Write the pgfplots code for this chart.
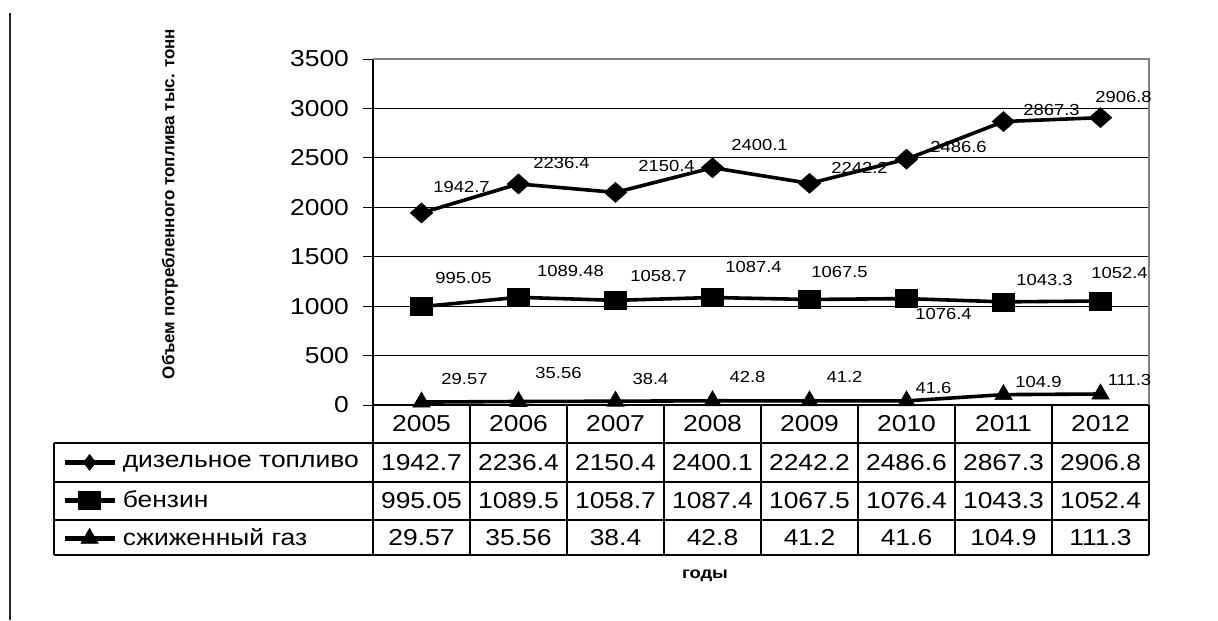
\documentclass[border=0pt]{standalone}
\usepackage{fontspec}
\setmainfont{Liberation Sans}[FakeStretch=1.15]
\newfontfamily\uprightfont{Liberation Sans}
\usepackage{pgfplots}
\usepackage{pgfplotstable}
\pgfplotsset{compat=1.18}

% x = year index (2005 = 0), y = value, dx/dy = label offset in pt
\pgfplotstableread{
x y      dx   dy    lab
0 1942.7 20   13    1942.7
1 2236.4 21.5 10.5  2236.4
2 2150.4 25.5 13    2150.4
3 2400.1 23.5 11.5  2400.1
4 2242.2 25   7.5   2242.2
5 2486.6 26   6     2486.6
6 2867.3 24   6     2867.3
7 2906.8 11.5 10.5  2906.8
}\diesel

\pgfplotstableread{
x y       dx   dy    lab
0 995.05  21   14.5  995.05
1 1089.48 26   13    1089.48
2 1058.7  21.5 12    1058.7
3 1087.4  20.5 15.5  1087.4
4 1067.5  15   13.5  1067.5
5 1076.4  18.5 -7.5  1076.4
6 1043.3  20.5 11    1043.3
7 1052.4  9.5  14    1052.4
}\petrol

\pgfplotstableread{
x y     dx   dy    lab
0 29.57 21.5 11.5  29.57
1 35.56 20   14    35.56
2 38.4  17.5 11    38.4
3 42.8  17.5 12    42.8
4 41.2  17.5 12    41.2
5 41.6  13.5 6.5   41.6
6 104.9 17.5 6.5   104.9
7 111.3 14.5 7     111.3
}\lpg

\begin{document}
\begin{tikzpicture}
\begin{scope}[x=0.5pt,y=-0.5pt]
  \path[use as bounding box] (0,0) rectangle (1218,620);
  \draw[line width=1pt, black!85] (10,13) -- (10,620);
  \node[rotate=90, font=\uprightfont\bfseries\fontsize{8.5}{10}\selectfont]
    at (170,204) {Объем потребленного топлива тыс. тонн};
\end{scope}

\begin{axis}[
  at={(186.5pt,-202.5pt)}, anchor=south west,
  scale only axis, width=388pt, height=173pt,
  xmin=-0.5, xmax=7.5, ymin=0, ymax=3500,
  axis lines*=left,
  axis line style={line width=1pt, black},
  xtick=\empty, ytick={0,500,...,3500},
  tick align=outside, major tick length=5pt,
  tick style={black, line width=0.5pt},
  ymajorgrids, grid style={black, line width=0.5pt},
  yticklabel style={font=\fontsize{11.5}{13}\selectfont, xshift=-3.5pt},
  /pgf/number format/assume math mode=true,
  /pgf/number format/1000 sep={},
  clip=false,
  legend cell align=left,
  legend style={at={(rel axis cs:-0.4111,-0.1098)}, anchor=north west,
    draw=none, fill=none, inner xsep=4pt, inner ysep=0pt,
    row sep=0pt, column sep=3pt,
    font=\fontsize{11.5}{13}\selectfont,
    nodes={minimum height=19pt, inner xsep=0pt, inner ysep=0pt}},
  legend image code/.code={
    \draw[black, line width=2.2pt] (0pt,0pt) -- (25pt,0pt);
    \draw[#1, only marks] plot coordinates {(12.5pt,0pt)};},
  nodes near coords, point meta=explicit symbolic,
  visualization depends on={\thisrow{dx} \as \dx},
  visualization depends on={\thisrow{dy} \as \dy},
  every node near coord/.append style={font=\fontsize{8}{9}\selectfont,
    anchor=center, inner sep=0pt, xshift=\dx pt, yshift=\dy pt},
]
\draw[gray, line width=0.75pt] (rel axis cs:0,1) -- (rel axis cs:1,1) -- (rel axis cs:1,0);

\addplot[black, line width=1.8pt, mark=diamond*, mark size=5pt,
  mark options={solid, xscale=1.5, line width=0.3pt},
  legend image post style={mark size=4pt, mark options={solid, line width=0.3pt}}]
  table[x=x, y=y, meta=lab]{\diesel};
\addlegendentry{дизельное топливо}

\addplot[black, line width=1.8pt, mark=square*, mark size=4.5pt,
  mark options={solid, xscale=1.2, line width=0.3pt}]
  table[x=x, y=y, meta=lab]{\petrol};
\addlegendentry{бензин}

\addplot[black, line width=1.8pt, mark=triangle*, mark size=5pt,
  mark options={solid, line width=0.3pt}]
  table[x=x, y=y, meta=lab]{\lpg};
\addlegendentry{сжиженный газ}
\end{axis}

% data table under the plot
\begin{scope}[x=0.5pt,y=-0.5pt, line width=0.6pt, font=\fontsize{11.5}{13}\selectfont]
  \foreach \k in {0,...,8} \draw (373+97*\k,405) -- (373+97*\k,555);
  \foreach \yy in {443,482,520,555} \draw (54,\yy) -- (1149,\yy);
  \draw (54,443) -- (54,555);
  \foreach \v [count=\c from 0] in {2005,2006,2007,2008,2009,2010,2011,2012}
    \node at (421.5+97*\c,424) {\v};
  \foreach \v [count=\c from 0] in {1942.7,2236.4,2150.4,2400.1,2242.2,2486.6,2867.3,2906.8}
    \node at (421.5+97*\c,462.5) {\v};
  \foreach \v [count=\c from 0] in {995.05,1089.5,1058.7,1087.4,1067.5,1076.4,1043.3,1052.4}
    \node at (421.5+97*\c,501) {\v};
  \foreach \v [count=\c from 0] in {29.57,35.56,38.4,42.8,41.2,41.6,104.9,111.3}
    \node at (421.5+97*\c,537.5) {\v};
  \node[font=\bfseries\fontsize{8}{9}\selectfont] at (705,576) {годы};
\end{scope}
\end{tikzpicture}
\end{document}
